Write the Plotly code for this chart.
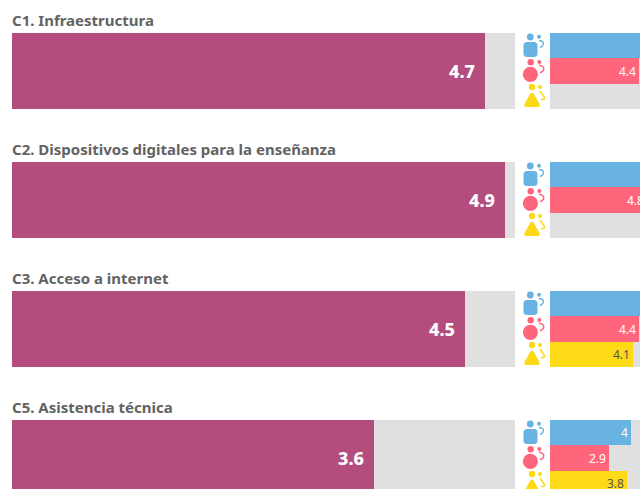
import plotly.graph_objects as go

# Data
categories = ["C1. Infraestructura", "C2. Dispositivos digitales para la enseñanza",
              "C3. Acceso a internet", "C5. Asistencia técnica"]
overall = [4.7, 4.9, 4.5, 3.6]
teachers = [5, 5, 5, 4]
students = [4.4, 4.8, 4.4, 2.9]
parents = [None, None, 4.1, 3.8]
scale_max = 5

# Styles
PURPLE, GRAY, BLUE, PINK, YELLOW = "#B44C7E", "#E0E0E0", "#69B3E3", "#FF667C", "#FDD916"
W, H = 660, 500
FONT = "Noto Sans"
rows = list(range(len(categories)))
ROW_PX = 129
TOP_PX = 71


def px(x):
    return x / W


def py(y):
    return 1 - y / H


fig = go.Figure()
main = dict(xaxis="x", yaxis="y", width=76 / ROW_PX, orientation="h", hoverinfo="skip",
            showlegend=False)
fig.add_trace(go.Bar(x=[scale_max] * len(rows), y=rows, marker=dict(color=GRAY, line_width=0), **main))
fig.add_trace(go.Bar(x=overall, y=rows, marker=dict(color=PURPLE, line_width=0), **main))

full_w = 76 / ROW_PX
sub = dict(xaxis="x2", yaxis="y", orientation="h", hoverinfo="skip", showlegend=False)
fig.add_trace(go.Bar(x=[scale_max] * len(rows), y=rows, width=full_w,
                     marker=dict(color=GRAY, line_width=0), **sub))
step = full_w / 3
series = [(teachers, BLUE, -step, "white"), (students, PINK, 0, "white"), (parents, YELLOW, step, "#555555")]
annotations = []
for vals, color, off, tcolor in series:
    ys = [r + off for r in rows]
    fig.add_trace(go.Bar(x=vals, y=ys, width=step, marker=dict(color=color, line_width=0), **sub))
    for v, y in zip(vals, ys):
        # a label on a full bar falls past the visible right edge, as in the reference
        if v is None or v == scale_max:
            continue
        annotations.append(dict(x=v, y=y, xref="x2", yref="y", text=str(v), showarrow=False,
                                xanchor="right", xshift=-1, yanchor="middle",
                                font=dict(family=FONT, size=12, color=tcolor)))

for r, cat, v in zip(rows, categories, overall):
    annotations.append(dict(x=0, y=r, xref="x", yref="y", text=cat, showarrow=False, xanchor="left",
                            xshift=-2, yshift=51, yanchor="middle",
                            font=dict(family=FONT, size=15, color="#636363", weight=700)))
    annotations.append(dict(x=v, y=r, xref="x", yref="y", text=str(v), showarrow=False, xanchor="right",
                            xshift=-8, yanchor="middle",
                            font=dict(family=FONT, size=18, color="white", weight=800)))

# Audience icons (decoration)
shapes = []


def circle(cx, cy, rad, color):
    shapes.append(dict(type="circle", xref="paper", yref="paper", x0=px(cx - rad), x1=px(cx + rad),
                       y0=py(cy + rad), y1=py(cy - rad), fillcolor=color, line_width=0))


def path(points_svg, color, fill=True, width=0):
    shapes.append(dict(type="path", xref="paper", yref="paper", path=points_svg,
                       fillcolor=color if fill else "rgba(0,0,0,0)",
                       line=dict(color=color, width=width)))


def P(x, y):
    return f"{px(x):.5f},{py(y):.5f}"


for r in rows:
    t = 33 + ROW_PX * r
    # blue: rounded square
    x0, x1, y0, y1 = 523.5, 537.5, t + 9, t + 24
    c = 3.5
    path(f"M{P(x0 + c, y0)} L{P(x1 - c, y0)} Q{P(x1, y0)} {P(x1, y0 + c)} L{P(x1, y1 - c)} "
         f"Q{P(x1, y1)} {P(x1 - c, y1)} L{P(x0 + c, y1)} Q{P(x0, y1)} {P(x0, y1 - c)} L{P(x0, y0 + c)} "
         f"Q{P(x0, y0)} {P(x0 + c, y0)} Z", BLUE)
    circle(530.3, t + 4, 3.4, BLUE)
    circle(539, t + 3.8, 2, BLUE)
    path(f"M{P(539, t + 7.5)} Q{P(545, t + 8)} {P(543, t + 12)} Q{P(542, t + 14)} {P(540, t + 14.5)}",
         BLUE, fill=False, width=1.5)
    # pink: circle
    t2 = t + 25.3
    circle(530.4, t2 + 16, 7.6, PINK)
    circle(530.7, t2 + 4, 3.2, PINK)
    circle(539.3, t2 + 3.7, 2, PINK)
    path(f"M{P(539, t2 + 7)} Q{P(545, t2 + 8)} {P(543.5, t2 + 12)} Q{P(542, t2 + 14)} {P(540, t2 + 14.5)}",
         PINK, fill=False, width=1.5)
    # yellow: rounded triangle
    t3 = t + 51
    path(f"M{P(532, t3 + 8.5)} Q{P(533.5, t3 + 8.5)} {P(534.5, t3 + 11)} L{P(539.5, t3 + 20)} "
         f"Q{P(540.5, t3 + 23)} {P(537.5, t3 + 23)} L{P(526.5, t3 + 23)} Q{P(523.5, t3 + 23)} {P(524.5, t3 + 20)} "
         f"L{P(529.5, t3 + 11)} Q{P(530.5, t3 + 8.5)} {P(532, t3 + 8.5)} Z", YELLOW)
    circle(532, t3 + 3, 3.2, YELLOW)
    circle(540, t3 + 3, 2, YELLOW)
    path(f"M{P(540, t3 + 7)} L{P(544.5, t3 + 13.5)} Q{P(545, t3 + 16)} {P(541, t3 + 15.5)}",
         YELLOW, fill=False, width=1.5)

fig.update_layout(
    width=W, height=H, autosize=False, margin=dict(l=0, r=0, t=0, b=0),
    paper_bgcolor="white", plot_bgcolor="white", barmode="overlay", bargap=0,
    xaxis=dict(domain=[px(12), px(515)], range=[0, scale_max], visible=False, fixedrange=True),
    xaxis2=dict(domain=[px(550), px(651)], range=[0, scale_max], visible=False, fixedrange=True, anchor="y"),
    yaxis=dict(domain=[0, 1], range=[(H - TOP_PX) / ROW_PX, -TOP_PX / ROW_PX], visible=False, fixedrange=True),
    annotations=annotations, shapes=shapes,
)
fig.write_html("out.html", config={"displayModeBar": False},
               post_script="document.body.style.margin='0';document.body.style.overflow='hidden';"
                           "document.documentElement.style.overflow='hidden';")
